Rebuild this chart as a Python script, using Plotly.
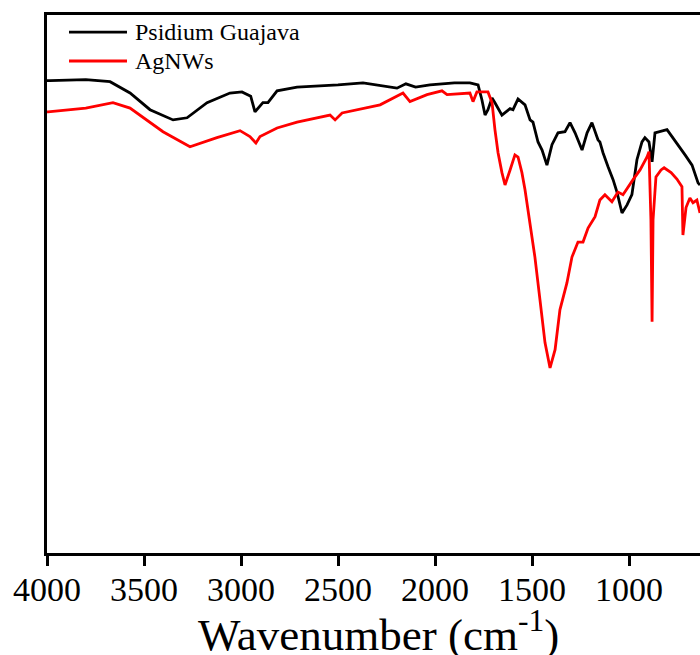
import plotly.graph_objects as go

# FTIR transmittance spectra (arbitrary %T scale), wavenumber in cm^-1
guava_wn = [4000, 3985, 3800, 3675, 3572, 3469, 3350, 3278, 3175, 3057, 2995, 2950,
            2928, 2887, 2861, 2814, 2711, 2500, 2371, 2196, 2150, 2100, 2026, 1900,
            1820, 1778, 1758, 1742, 1727, 1706, 1691, 1655, 1613, 1598, 1572, 1536,
            1510, 1495, 1469, 1448, 1423, 1397, 1366, 1330, 1304, 1278, 1242, 1216,
            1191, 1160, 1150, 1134, 1108, 1082, 1062, 1036, 1010, 985, 959, 933,
            918, 897, 881, 866, 804, 753, 711, 675, 644, 634]
guava_t = [87.4, 87.4, 87.6, 87.2, 85.1, 82.0, 80.1, 80.5, 83.3, 85.1, 85.3, 84.5,
           81.6, 83.3, 83.3, 85.5, 86.2, 86.6, 87.0, 86.0, 86.8, 86.2, 86.6, 87.0,
           87.0, 86.6, 83.8, 81.0, 82.0, 84.2, 83.3, 81.0, 82.2, 82.0, 84.0, 82.9,
           80.1, 79.7, 76.0, 74.5, 71.7, 75.5, 77.7, 77.9, 79.6, 77.7, 74.5, 77.7,
           79.6, 76.4, 76.0, 74.0, 71.4, 69.0, 66.7, 62.8, 64.3, 66.2, 72.7, 76.0,
           76.8, 76.0, 72.3, 77.7, 78.3, 75.8, 73.6, 71.7, 68.4, 68.0]

agnw_wn = [4000, 3995, 3800, 3660, 3572, 3402, 3263, 3124, 3005, 2954, 2923, 2902,
           2814, 2711, 2541, 2515, 2479, 2283, 2165, 2129, 2041, 1964, 1938, 1820,
           1804, 1784, 1727, 1706, 1691, 1675, 1655, 1639, 1613, 1588, 1572, 1552,
           1536, 1485, 1459, 1433, 1407, 1381, 1356, 1320, 1294, 1263, 1237, 1211,
           1175, 1150, 1124, 1088, 1057, 1031, 979, 943, 907, 897, 887, 881, 876,
           861, 835, 819, 783, 753, 727, 722, 706, 686, 670, 650, 634]
agnw_t = [81.6, 81.6, 82.3, 83.3, 82.3, 77.9, 75.1, 76.8, 78.1, 77.0, 75.8, 77.0,
          78.6, 79.7, 81.0, 80.1, 81.4, 82.9, 85.1, 83.5, 84.8, 85.5, 84.8, 85.1,
          83.5, 85.3, 85.3, 83.3, 78.3, 74.0, 70.3, 68.0, 70.8, 73.6, 73.2, 70.3,
          67.1, 54.6, 46.7, 38.7, 34.0, 37.4, 44.8, 49.8, 54.6, 57.4, 57.4, 60.0,
          62.1, 65.2, 66.2, 64.9, 66.7, 66.2, 69.0, 70.8, 73.2, 74.2, 61.5, 42.6, 61.5,
          69.5, 70.8, 71.2, 70.3, 69.1, 67.7, 58.7, 63.8, 65.6, 64.7, 65.2, 62.8]

tick_vals = [4000, 3500, 3000, 2500, 2000, 1500, 1000]
series = [("Psidium Guajava", guava_wn, guava_t, "#000000"),
          ("AgNWs", agnw_wn, agnw_t, "#ff0000")]

FONT = "Liberation Serif"

fig = go.Figure()
for name, wn, t, color in series:
    fig.add_trace(go.Scatter(x=wn, y=t, mode="lines", name=name,
                             line=dict(color=color, width=2.8),
                             showlegend=False))

# legend drawn as short line samples with labels in the upper-left corner
legend_rows = [0.968, 0.9145]
for (name, _, _, color), yy in zip(series, legend_rows):
    fig.add_shape(type="line", xref="paper", yref="paper",
                  x0=0.0337, x1=0.1225, y0=yy, y1=yy,
                  line=dict(color=color, width=2.8))
    fig.add_annotation(text=name, xref="paper", yref="paper",
                       x=0.1317, y=yy, xanchor="left", yanchor="middle",
                       showarrow=False, font=dict(family=FONT, size=24, color="#000000"))

# x-axis title placed under the tick labels
fig.add_annotation(text="Wavenumber (cm<sup>-1</sup>)", xref="paper", yref="paper",
                   x=0.507, y=-0.145, xanchor="center", yanchor="middle",
                   showarrow=False, font=dict(family=FONT, size=45, color="#000000"))

fig.update_layout(
    width=700, height=655,
    margin=dict(l=47, r=0, t=15, b=102),
    paper_bgcolor="white", plot_bgcolor="white",
    font=dict(family=FONT, color="#000000"),
    xaxis=dict(
        range=[4000, 634], tickvals=tick_vals,
        ticks="outside", ticklen=10, tickwidth=3, tickcolor="#000000",
        showline=True, linewidth=3, linecolor="#000000", mirror=True,
        showgrid=False, zeroline=False,
        tickfont=dict(family=FONT, size=34),
        ticklabelstandoff=-6,
    ),
    yaxis=dict(
        range=[-0.4, 99.6], showticklabels=False, ticks="",
        showline=True, linewidth=3, linecolor="#000000", mirror=False,
        showgrid=False, zeroline=False,
    ),
)

fig.write_html("out.html")
